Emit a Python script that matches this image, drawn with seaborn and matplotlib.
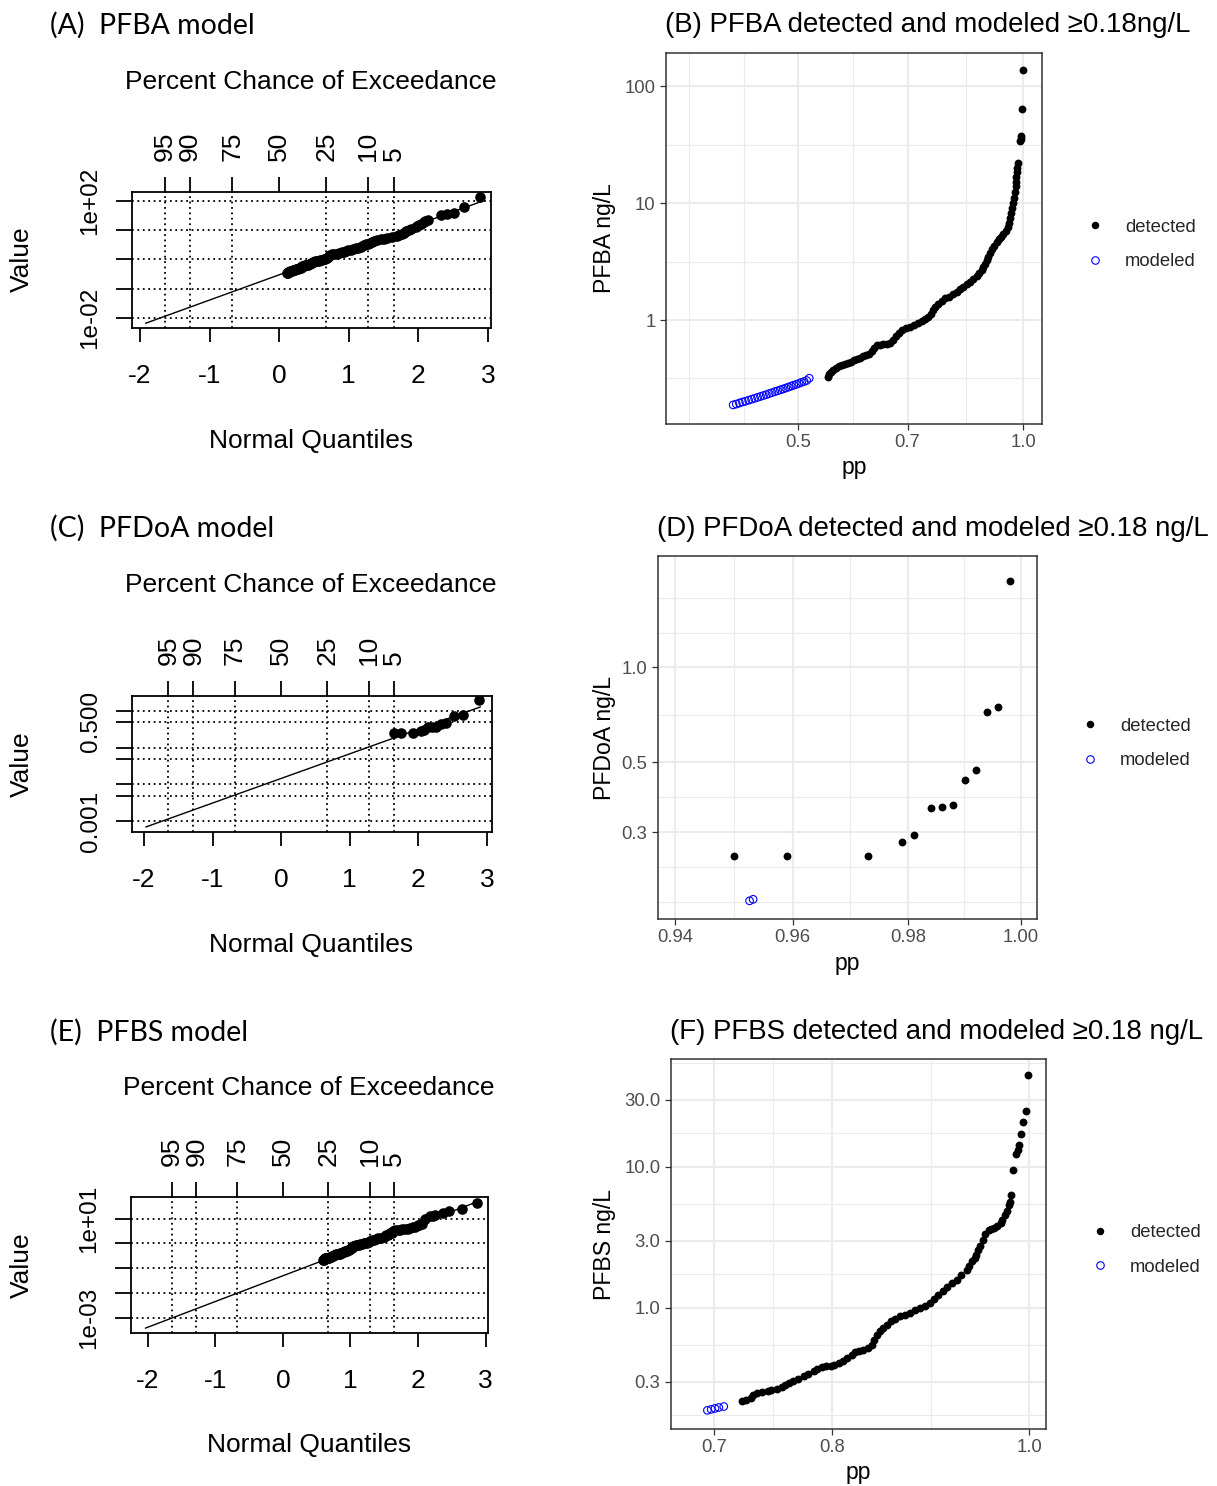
import numpy as np
import matplotlib
matplotlib.use("Agg")
import matplotlib.pyplot as plt
import seaborn as sns
from matplotlib.ticker import FixedLocator, NullLocator, NullFormatter
from matplotlib.lines import Line2D
from statistics import NormalDist

sns.set_theme(style="white")
plt.rcParams['font.family'] = ['Liberation Sans', 'DejaVu Sans']

# ---------------------------------------------------------------- data
# PFBA: plotting positions (pp) and concentrations (ng/L)
pfba_det_pp = [0.547, 0.550, 0.553, 0.556, 0.562, 0.567, 0.572, 0.577, 0.583, 0.588,
               0.594, 0.599, 0.605, 0.610, 0.616, 0.622, 0.628, 0.631, 0.637, 0.643,
               0.649, 0.657, 0.663, 0.669, 0.676, 0.682, 0.688, 0.697, 0.705, 0.714,
               0.723, 0.732, 0.739, 0.746, 0.753, 0.757, 0.762, 0.769, 0.778, 0.786,
               0.795, 0.806, 0.815, 0.823, 0.830, 0.840, 0.849, 0.856, 0.866, 0.872,
               0.879, 0.884, 0.889, 0.893, 0.898, 0.903, 0.908, 0.914, 0.921, 0.928,
               0.934, 0.940, 0.948, 0.955, 0.958, 0.961, 0.963, 0.966, 0.969, 0.971,
               0.975, 0.976, 0.978, 0.979, 0.981, 0.982, 0.984, 0.990, 0.992, 0.994,
               0.996, 0.998]
pfba_det_val = [0.328, 0.346, 0.359, 0.374, 0.389, 0.401, 0.412, 0.421, 0.429, 0.438,
                0.451, 0.464, 0.473, 0.488, 0.502, 0.517, 0.543, 0.576, 0.611, 0.617,
                0.619, 0.623, 0.642, 0.675, 0.730, 0.774, 0.821, 0.854, 0.876, 0.906,
                0.943, 0.981, 1.02, 1.06, 1.13, 1.22, 1.30, 1.38, 1.47, 1.53,
                1.57, 1.66, 1.74, 1.83, 1.91, 2.03, 2.13, 2.24, 2.38, 2.52,
                2.68, 2.84, 3.04, 3.26, 3.48, 3.74, 4.05, 4.33, 4.67, 4.92,
                5.17, 5.43, 5.77, 6.24, 6.75, 7.44, 8.21, 9.07, 10.0, 11.0,
                12.5, 14.0, 15.1, 16.7, 18.4, 20.1, 22.0, 33.9, 35.6, 37.4,
                64.5, 137.0]
pfba_mod_pp = [0.409, 0.413, 0.417, 0.421, 0.425, 0.429, 0.433, 0.437, 0.441, 0.445,
               0.449, 0.453, 0.457, 0.461, 0.465, 0.469, 0.473, 0.477, 0.481, 0.485,
               0.489, 0.493, 0.497, 0.501, 0.505, 0.509, 0.513, 0.517]
pfba_mod_val = [0.188, 0.191, 0.195, 0.199, 0.202, 0.206, 0.210, 0.214, 0.218, 0.222,
                0.226, 0.230, 0.235, 0.239, 0.244, 0.248, 0.253, 0.257, 0.262, 0.267,
                0.272, 0.277, 0.282, 0.287, 0.293, 0.298, 0.304, 0.318]

# PFDoA
pfdoa_det_pp = [0.950, 0.959, 0.973, 0.979, 0.981, 0.984, 0.986, 0.988, 0.990, 0.992,
                0.994, 0.996, 0.998]
pfdoa_det_val = [0.252, 0.252, 0.253, 0.279, 0.295, 0.358, 0.361, 0.367, 0.439, 0.472,
                 0.720, 0.749, 1.87]
pfdoa_mod_pp = [0.9526, 0.9532]
pfdoa_mod_val = [0.182, 0.184]

# PFBS
pfbs_det_pp = [0.723, 0.726, 0.730, 0.732, 0.735, 0.739, 0.744, 0.747, 0.752, 0.756,
               0.759, 0.762, 0.766, 0.770, 0.775, 0.779, 0.784, 0.787, 0.791, 0.795,
               0.799, 0.802, 0.806, 0.810, 0.814, 0.818, 0.821, 0.825, 0.829, 0.833,
               0.837, 0.839, 0.842, 0.845, 0.848, 0.851, 0.855, 0.859, 0.864, 0.869,
               0.874, 0.879, 0.884, 0.889, 0.894, 0.898, 0.902, 0.907, 0.911, 0.916,
               0.921, 0.926, 0.932, 0.934, 0.937, 0.940, 0.942, 0.944, 0.946, 0.949,
               0.951, 0.955, 0.958, 0.961, 0.964, 0.968, 0.970, 0.973, 0.975, 0.977,
               0.978, 0.980, 0.982, 0.985, 0.987, 0.988, 0.991, 0.993, 0.996, 0.998]
pfbs_det_val = [0.218, 0.224, 0.230, 0.241, 0.250, 0.255, 0.259, 0.263, 0.268, 0.277,
                0.286, 0.293, 0.302, 0.315, 0.327, 0.342, 0.359, 0.371, 0.382, 0.387,
                0.390, 0.396, 0.407, 0.423, 0.442, 0.463, 0.488, 0.498, 0.506, 0.523,
                0.549, 0.596, 0.646, 0.685, 0.722, 0.761, 0.804, 0.840, 0.872, 0.896,
                0.922, 0.965, 1.00, 1.04, 1.09, 1.16, 1.24, 1.33, 1.42, 1.50,
                1.59, 1.71, 1.87, 2.00, 2.14, 2.27, 2.39, 2.59, 2.77, 3.05,
                3.37, 3.56, 3.62, 3.71, 3.84, 4.00, 4.23, 4.55, 4.84, 5.40,
                5.67, 6.37, 9.57, 12.4, 13.3, 14.3, 17.2, 20.7, 24.8, 44.6]
pfbs_mod_pp = [0.695, 0.698, 0.701, 0.704, 0.708]
pfbs_mod_val = [0.188, 0.191, 0.194, 0.197, 0.200]

# fitted lognormal lines (log10 mean, log10 sd, normal-quantile range)
pfba_fit = [-0.53, 0.865, -1.92, 2.91]
pfdoa_fit = [-1.836, 0.6656, -1.975, 2.905]
pfbs_fit = [-1.306, 1.04, -2.035, 2.835]

exceed_pct = [95, 90, 75, 50, 25, 10, 5]
qq_xticks = [-2, -1, 0, 1, 2, 3]

# ---------------------------------------------------------------- layout helpers
W, H = 1217, 1486
fig = plt.figure(figsize=(W / 100, H / 100), dpi=100)
fig.patch.set_facecolor("white")
nd = NormalDist()


def zscore(p):
    return np.array([nd.inv_cdf(v) for v in p])


def axes_px(box):
    x0, y0, x1, y1 = box
    return fig.add_axes([x0 / W, 1 - y1 / H, (x1 - x0) / W, (y1 - y0) / H])


def fpos(px, py):
    return px / W, 1 - py / H


def text_px(px, py, s, **kw):
    x, y = fpos(px, py)
    fig.text(x, y, s, **kw)


R_LINE = 1.3
DOT = (0, (1, 2))


def qq_panel(box, xlim, ylim, yticks, ylabels, det_pp, det_val, fit,
             title, title_y, top_label_y, xlab_y, ylab_y, xcenter):
    ax = axes_px(box)
    ax.set_yscale("log")
    mu, sd, z0, z1 = fit
    zl = np.array([z0, z1])
    sns.lineplot(x=zl, y=10 ** (mu + sd * zl), ax=ax, color="black", lw=1.0,
                 zorder=3)
    sns.scatterplot(x=zscore(det_pp), y=det_val, ax=ax, color="black", s=58,
                    linewidth=0, zorder=4)
    ax.set_xlim(xlim)
    ax.set_ylim(ylim)
    ax.set_facecolor("white")

    ax.set_xticks(qq_xticks, [str(t) for t in qq_xticks])
    ax.set_yticks(yticks, ylabels, rotation=90, va="center")
    ax.yaxis.set_minor_locator(NullLocator())
    ax.yaxis.set_minor_formatter(NullFormatter())
    zpos = zscore([1 - p / 100 for p in exceed_pct])
    ax.xaxis.set_minor_locator(FixedLocator(zpos))
    ax.xaxis.set_minor_formatter(NullFormatter())
    ax.grid(False)
    ax.grid(True, which="major", axis="y", color="black", ls=DOT, lw=R_LINE)
    ax.grid(True, which="minor", axis="x", color="black", ls=DOT, lw=R_LINE)
    ax.tick_params(axis="x", which="major", direction="out", length=10,
                   width=R_LINE, color="black", labelsize=19, pad=16,
                   bottom=True, labelcolor="black")
    ax.tick_params(axis="y", which="major", direction="out", length=11.5,
                   width=R_LINE, color="black", labelsize=17.5, pad=10.4,
                   left=True, labelcolor="black")
    ax.tick_params(which="minor", length=0)
    for s in ax.spines.values():
        s.set_color("black")
        s.set_linewidth(R_LINE)

    sec = ax.secondary_xaxis("top")
    sec.set_xticks(zpos, [str(p) for p in exceed_pct])
    sec.tick_params(axis="x", direction="out", length=11, width=R_LINE,
                    color="black", labelsize=19, pad=11.5, labelrotation=90,
                    labelcolor="black")
    sec.spines["top"].set_visible(False)

    ax.set_xlabel("Normal Quantiles", fontsize=19, color="black")
    ax.xaxis.set_label_coords(*fpos(xcenter, xlab_y), transform=fig.transFigure)
    ax.xaxis.label.set_va("center")
    ax.set_ylabel("Value", fontsize=19, color="black")
    ax.yaxis.set_label_coords(*fpos(22, ylab_y), transform=fig.transFigure)
    ax.yaxis.label.set_va("center")
    text_px(xcenter, top_label_y, "Percent Chance of Exceedance", fontsize=19,
            ha="center", va="center", color="black")
    text_px(50, title_y, title, fontsize=20.5, ha="left", va="center",
            family=["Lato", "DejaVu Sans"], color="black")
    return ax


GRID_COL = "#EBEBEB"


def pp_panel(box, xlim, ylim, xmaj, xlab, xminor, ymaj, ylab, yminor,
             det_pp, det_val, mod_pp, mod_val, ylabel, title, title_y,
             xlab_y, legend_x, legend_y):
    ax = axes_px(box)
    ax.set_xscale("log")
    ax.set_yscale("log")
    sns.scatterplot(x=det_pp, y=det_val, ax=ax, color="black", s=32,
                    linewidth=0, zorder=4)
    sns.scatterplot(x=mod_pp, y=mod_val, ax=ax, marker="o", s=30,
                    fc="none", edgecolor="#0000FF", linewidth=0.8, zorder=4)
    ax.set_xlim(xlim)
    ax.set_ylim(ylim)
    ax.set_facecolor("white")
    ax.set_xticks(xmaj, xlab)
    ax.set_yticks(ymaj, ylab)
    ax.xaxis.set_minor_locator(FixedLocator(xminor))
    ax.yaxis.set_minor_locator(FixedLocator(yminor))
    ax.xaxis.set_minor_formatter(NullFormatter())
    ax.yaxis.set_minor_formatter(NullFormatter())
    ax.grid(False)
    ax.grid(True, which="major", color=GRID_COL, lw=1.45, zorder=0)
    ax.grid(True, which="minor", color=GRID_COL, lw=0.8, zorder=0)
    ax.set_axisbelow(True)
    ax.tick_params(which="major", direction="out", length=4.2, width=0.9,
                   color="#333333", labelsize=13.3, labelcolor="#4D4D4D",
                   pad=3.3, bottom=True, left=True)
    ax.tick_params(which="minor", length=0)
    for s in ax.spines.values():
        s.set_color("#333333")
        s.set_linewidth(1.1)

    x0, y0, x1, y1 = box
    ax.set_xlabel("pp", fontsize=16.6, color="black")
    ax.xaxis.set_label_coords(*fpos((x0 + x1) / 2, xlab_y), transform=fig.transFigure)
    ax.xaxis.label.set_va("center")
    ax.set_ylabel(ylabel, fontsize=16.6, color="black")
    ax.yaxis.set_label_coords(*fpos(604, (y0 + y1) / 2), transform=fig.transFigure)
    ax.yaxis.label.set_va("center")
    text_px(x0 - 1, title_y, title, fontsize=19.9, ha="left", va="center",
            color="black")

    handles = [
        Line2D([], [], ls="none", marker="o", ms=5.4, mfc="black", mec="black",
               mew=0),
        Line2D([], [], ls="none", marker="o", ms=5.4, mfc="none", mec="#0000FF",
               mew=0.8),
    ]
    lx, ly = fpos(legend_x, legend_y)
    fig.legend(handles, ["detected", "modeled"], loc="center left",
               bbox_to_anchor=(lx, ly), bbox_transform=fig.transFigure,
               frameon=False, fontsize=13.3, handlelength=1.0,
               handletextpad=1.1, labelspacing=0.95, borderpad=0,
               borderaxespad=0)
    return ax


# ---------------------------------------------------------------- left column
qq_panel((132, 192, 491, 328), (-2.115, 3.043), (10 ** -2.353, 10 ** 2.308),
         [1e-2, 1e-1, 1, 1e1, 1e2], ["1e-02", "", "", "", "1e+02"],
         pfba_det_pp, pfba_det_val, pfba_fit,
         "(A)  PFBA model", 25, 82, 441, 259, 311)

qq_panel((132, 696, 492, 832), (-2.175, 3.073), (10 ** -3.285, 10 ** 0.393),
         [0.001, 0.005, 0.01, 0.05, 0.1, 0.5, 1],
         ["0.001", "", "", "", "", "0.500", ""],
         pfdoa_det_pp, pfdoa_det_val, pfdoa_fit,
         "(C)  PFDoA model", 528, 585, 945, 764, 311)

qq_panel((131, 1197, 488, 1333), (-2.247, 3.034), (10 ** -3.618, 10 ** 1.877),
         [1e-3, 1e-2, 1e-1, 1, 1e1], ["1e-03", "", "", "", "1e+01"],
         pfbs_det_pp, pfbs_det_val, pfbs_fit,
         "(E)  PFBS model", 1032, 1088, 1445, 1265, 309)

# ---------------------------------------------------------------- right column
pp_panel((666, 53, 1042, 424), (0.3326, 1.059), (0.129, 192.8),
         [0.5, 0.7, 1.0], ["0.5", "0.7", "1.0"], [0.357, 0.4226, 0.5916, 0.8367],
         [1, 10, 100], ["1", "10", "100"], [0.3162, 3.162, 31.62],
         pfba_det_pp, pfba_det_val, pfba_mod_pp, pfba_mod_val,
         "PFBA ng/L", "(B) PFBA detected and modeled \u22650.18ng/L", 25,
         468, 1086, 244.5)

pp_panel((658, 556, 1037, 919), (0.9371, 1.00292), (0.1594, 2.25),
         [0.94, 0.96, 0.98, 1.00], ["0.94", "0.96", "0.98", "1.00"],
         [0.9499, 0.9699, 0.98995],
         [0.3, 0.5, 1.0], ["0.3", "0.5", "1.0"],
         [0.18, 0.2324, 0.387, 0.707, 1.284, 1.657],
         pfdoa_det_pp, pfdoa_det_val, pfdoa_mod_pp, pfdoa_mod_val,
         "PFDoA ng/L", "(D) PFDoA detected and modeled \u22650.18 ng/L", 529,
         963, 1081, 743.5)

pp_panel((671, 1059, 1046, 1429), (0.667, 1.019), (0.1386, 58.3),
         [0.7, 0.8, 1.0], ["0.7", "0.8", "1.0"], [0.7483, 0.8944],
         [0.3, 1, 3, 10, 30], ["0.3", "1.0", "3.0", "10.0", "30.0"],
         [0.1732, 0.5477, 1.732, 5.477, 17.32, 54.77],
         pfbs_det_pp, pfbs_det_val, pfbs_mod_pp, pfbs_mod_val,
         "PFBS ng/L", "(F) PFBS detected and modeled \u22650.18 ng/L", 1032,
         1473, 1091, 1250)

fig.savefig("out.png", dpi=100, facecolor="white")
